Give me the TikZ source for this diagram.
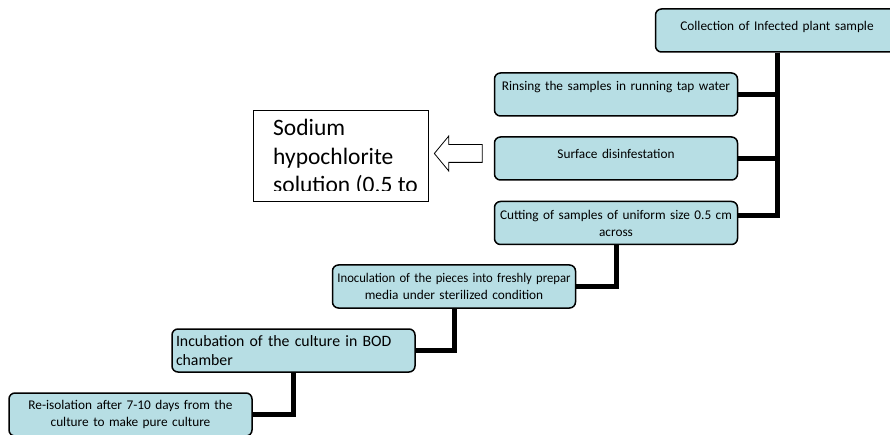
\documentclass[tikz,border=0pt]{standalone}
\usepackage{fontspec}
\setmainfont{Carlito}
\usetikzlibrary{shapes.arrows}

\definecolor{boxfill}{RGB}{183,222,228}
\newcommand{\boxfont}{\fontsize{13.3}{17}\selectfont}
\newcommand{\bigboxfont}{\fontsize{15.8}{19}\selectfont}
\newcommand{\notefont}{\fontsize{23.5}{28.5}\selectfont}

\begin{document}
\begin{tikzpicture}[x=1pt, y=-1pt,
    stepbox/.style={draw, line width=1.5pt, rounded corners=6pt, fill=boxfill,
      text width=235pt, inner xsep=4pt, minimum height=43pt, align=center, font=\boxfont},
    link/.style={line width=5pt},
    notebox/.style={draw, line width=0.8pt, fill=white, minimum width=175pt, minimum height=91pt}]
   \useasboundingbox (0,0) rectangle (890,435);

   % draw step boxes
   \node[stepbox, text depth=10pt] (collect) at (777,30.5) {Collection of Infected plant sample};
   \node[stepbox, text depth=17pt] (rinse) at (616,94.5) {Rinsing the samples in running tap water};
   \node[stepbox, text depth=10pt] (surface) at (616,158.5) {Surface disinfestation};
   \node[stepbox] (cut) at (616,223) {Cutting of samples of uniform size 0.5 cm\\across};
   \node[stepbox] (inoc) at (454,286.5) {\scalebox{0.955}[1]{Inoculation of the pieces into freshly prepar}\\media under sterilized condition};
   \node[stepbox, align=left, font=\bigboxfont] (incub) at (293.5,350.5) {Incubation of the culture in BOD\\chamber};
   \node[stepbox] (reiso) at (130.5,414.5) {Re-isolation after 7-10 days from the\\culture to make pure culture};

   % draw note box, text cut off at the bottom
   \node[notebox] (sodium) at (340.5,155.5) {};
   \begin{scope}
     \clip (sodium.north west) rectangle (428,190.5);
     \node[anchor=base west, inner sep=0pt, font=\notefont] (sodtext) at (273,136) {Sodium};
     \node[anchor=base west, inner sep=0pt, font=\notefont] at (273,164.5) {hypochlorite};
     \node[anchor=base west, inner sep=0pt, font=\notefont] at (273,193) {solution (0.5 to};
   \end{scope}
   \node[single arrow, draw, fill=white, line width=0.8pt, shape border rotate=180,
     minimum height=48pt, minimum width=34pt, inner sep=8.5pt, single arrow head extend=8.5pt,
     single arrow tip angle=101] (pointer) at (462,153.5) {};

   % draw connectors
   \draw[link] (collect.south) |- (rinse.east);
   \draw[link] (collect.south) |- (surface.east);
   \draw[link] (collect.south) |- ([yshift=7pt]cut.east);
   \draw[link] (cut.south) |- (inoc.east);
   \draw[link] (inoc.south) |- (incub.east);
   \draw[link] (incub.south) |- (reiso.east);
\end{tikzpicture}
\end{document}
